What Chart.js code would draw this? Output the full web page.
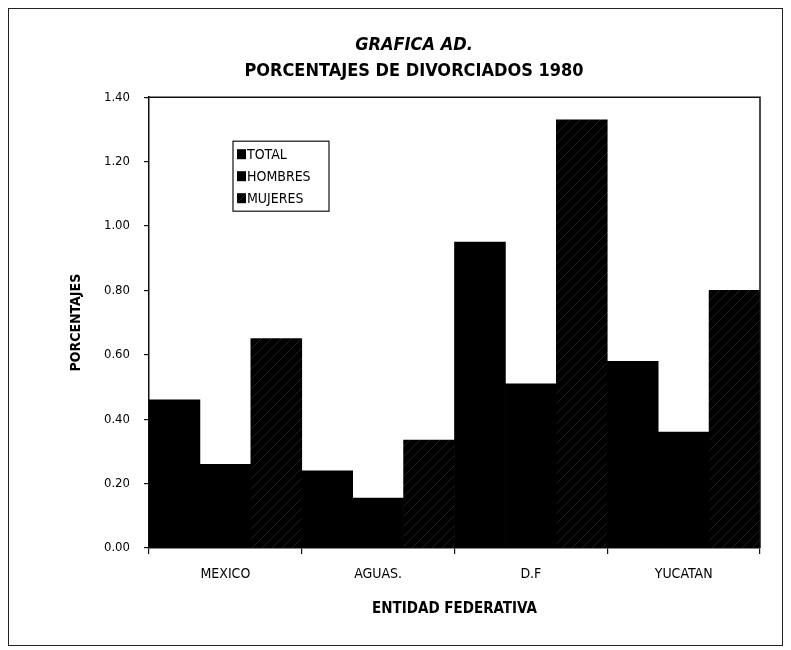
<!doctype html>
<html>
<head>
    <title>Porcentajes de divorciados 1980</title>
    <script src="https://cdn.jsdelivr.net/npm/chart.js@4.4.0/dist/chart.umd.min.js"></script>
    <style>
    body { margin: 0; background: #fff; }
    #holder { position: relative; width: 791px; height: 650px; }
    #frame { position: absolute; left: 8px; top: 8px; width: 773px; height: 636px; border: 1px solid #222; pointer-events: none; }
    </style>
</head>
<body>
<div id="holder">
    <canvas id="chart-area"></canvas>
    <div id="frame"></div>
</div>
<script>
    // datos
    var entidades = ['MEXICO', 'AGUAS.', 'D.F', 'YUCATAN'];
    var total = [0.46, 0.24, 0.95, 0.58];
    var hombres = [0.26, 0.155, 0.51, 0.36];
    var mujeres = [0.65, 0.335, 1.33, 0.80];
    var serieNombres = ['TOTAL', 'HOMBRES', 'MUJERES'];

    var narrow = "'Liberation Sans Narrow', 'DejaVu Sans Condensed', 'Liberation Sans', Arial, sans-serif";

    function hatch(color) {
        var c = document.createElement('canvas');
        c.width = 10; c.height = 10;
        var g = c.getContext('2d');
        g.fillStyle = '#000';
        g.fillRect(0, 0, 10, 10);
        g.strokeStyle = color;
        g.lineWidth = 0.8;
        g.beginPath();
        g.moveTo(0, 10); g.lineTo(10, 0);
        g.stroke();
        return g.createPattern(c, 'repeat');
    }

    // caja alrededor del area de trazado
    var marco = {
        id: 'marco',
        afterDatasetsDraw: function (chart) {
            var a = chart.chartArea, ctx = chart.ctx;
            ctx.save();
            ctx.strokeStyle = '#111';
            ctx.lineWidth = 1.5;
            ctx.beginPath();
            ctx.moveTo(a.left, a.top);
            ctx.lineTo(a.right, a.top);
            ctx.lineTo(a.right, a.bottom);
            ctx.stroke();
            ctx.restore();
        }
    };

    // leyenda dentro del area de trazado
    var leyenda = {
        id: 'leyenda',
        afterDraw: function (chart) {
            var a = chart.chartArea, ctx = chart.ctx;
            var x = a.left + 84, y = a.top + 44;
            ctx.save();
            ctx.fillStyle = '#fff';
            ctx.fillRect(x, y, 96, 70);
            ctx.strokeStyle = '#111';
            ctx.lineWidth = 1.2;
            ctx.strokeRect(x, y, 96, 70);
            ctx.font = '14px ' + narrow;
            ctx.textBaseline = 'middle';
            chart.data.datasets.forEach(function (ds, i) {
                var cy = y + 13 + i * 22;
                ctx.fillStyle = ds.backgroundColor;
                ctx.fillRect(x + 4, cy - 5, 9, 10);
                ctx.fillStyle = '#000';
                ctx.fillText(ds.label, x + 14, cy + 1);
            });
            ctx.restore();
        }
    };

    var config = {
        type: 'bar',
        data: {
            labels: entidades,
            datasets: [{
                label: serieNombres[0],
                data: total,
                backgroundColor: '#000'
            }, {
                label: serieNombres[1],
                data: hombres,
                backgroundColor: '#000'
            }, {
                label: serieNombres[2],
                data: mujeres,
                backgroundColor: hatch('#2a2a2a')
            }]
        },
        options: {
            responsive: true,
            maintainAspectRatio: false,
            animation: false,
            datasets: {
                bar: { barPercentage: 1, categoryPercentage: 1, borderWidth: 0 }
            },
            layout: { padding: { top: 17, left: 68, right: 31, bottom: 32 } },
            plugins: {
                legend: { display: false },
                tooltip: { enabled: false },
                title: {
                    display: true,
                    text: 'GRAFICA AD.',
                    color: '#000',
                    font: { family: narrow, size: 18, weight: 'bold', style: 'italic' },
                    padding: { top: 18, bottom: 0 }
                },
                subtitle: {
                    display: true,
                    text: 'PORCENTAJES DE DIVORCIADOS 1980',
                    color: '#000',
                    font: { family: narrow, size: 18, weight: 'bold' },
                    padding: { top: 4, bottom: 15 }
                }
            },
            scales: {
                x: {
                    grid: { drawOnChartArea: false, tickLength: 6, color: '#111', lineWidth: 1.2 },
                    border: { color: '#111', width: 1.5 },
                    ticks: { color: '#000', padding: 12, font: { family: narrow, size: 14 } },
                    title: {
                        display: true,
                        text: 'ENTIDAD FEDERATIVA',
                        color: '#000',
                        font: { family: narrow, size: 15, weight: 'bold' },
                        padding: 0
                    },
                    afterFit: function (s) { s.height = 70; }
                },
                y: {
                    min: 0,
                    max: 1.4,
                    grid: { drawOnChartArea: false, tickLength: 5, color: '#111', lineWidth: 1.2 },
                    border: { color: '#111', width: 1.5 },
                    ticks: {
                        stepSize: 0.2,
                        color: '#000',
                        padding: 14,
                        font: { family: narrow, size: 13 },
                        callback: function (v) { return v.toFixed(2); }
                    },
                    title: {
                        display: true,
                        text: 'PORCENTAJES',
                        color: '#000',
                        font: { family: narrow, size: 14, weight: 'bold' },
                        padding: 0
                    },
                    afterFit: function (s) { s.width = 81; }
                }
            }
        },
        plugins: [marco, leyenda]
    };

    window.onload = function () {
        var ctx = document.getElementById('chart-area').getContext('2d');
        window.myBar = new Chart(ctx, config);
    };
</script>
</body>
</html>
